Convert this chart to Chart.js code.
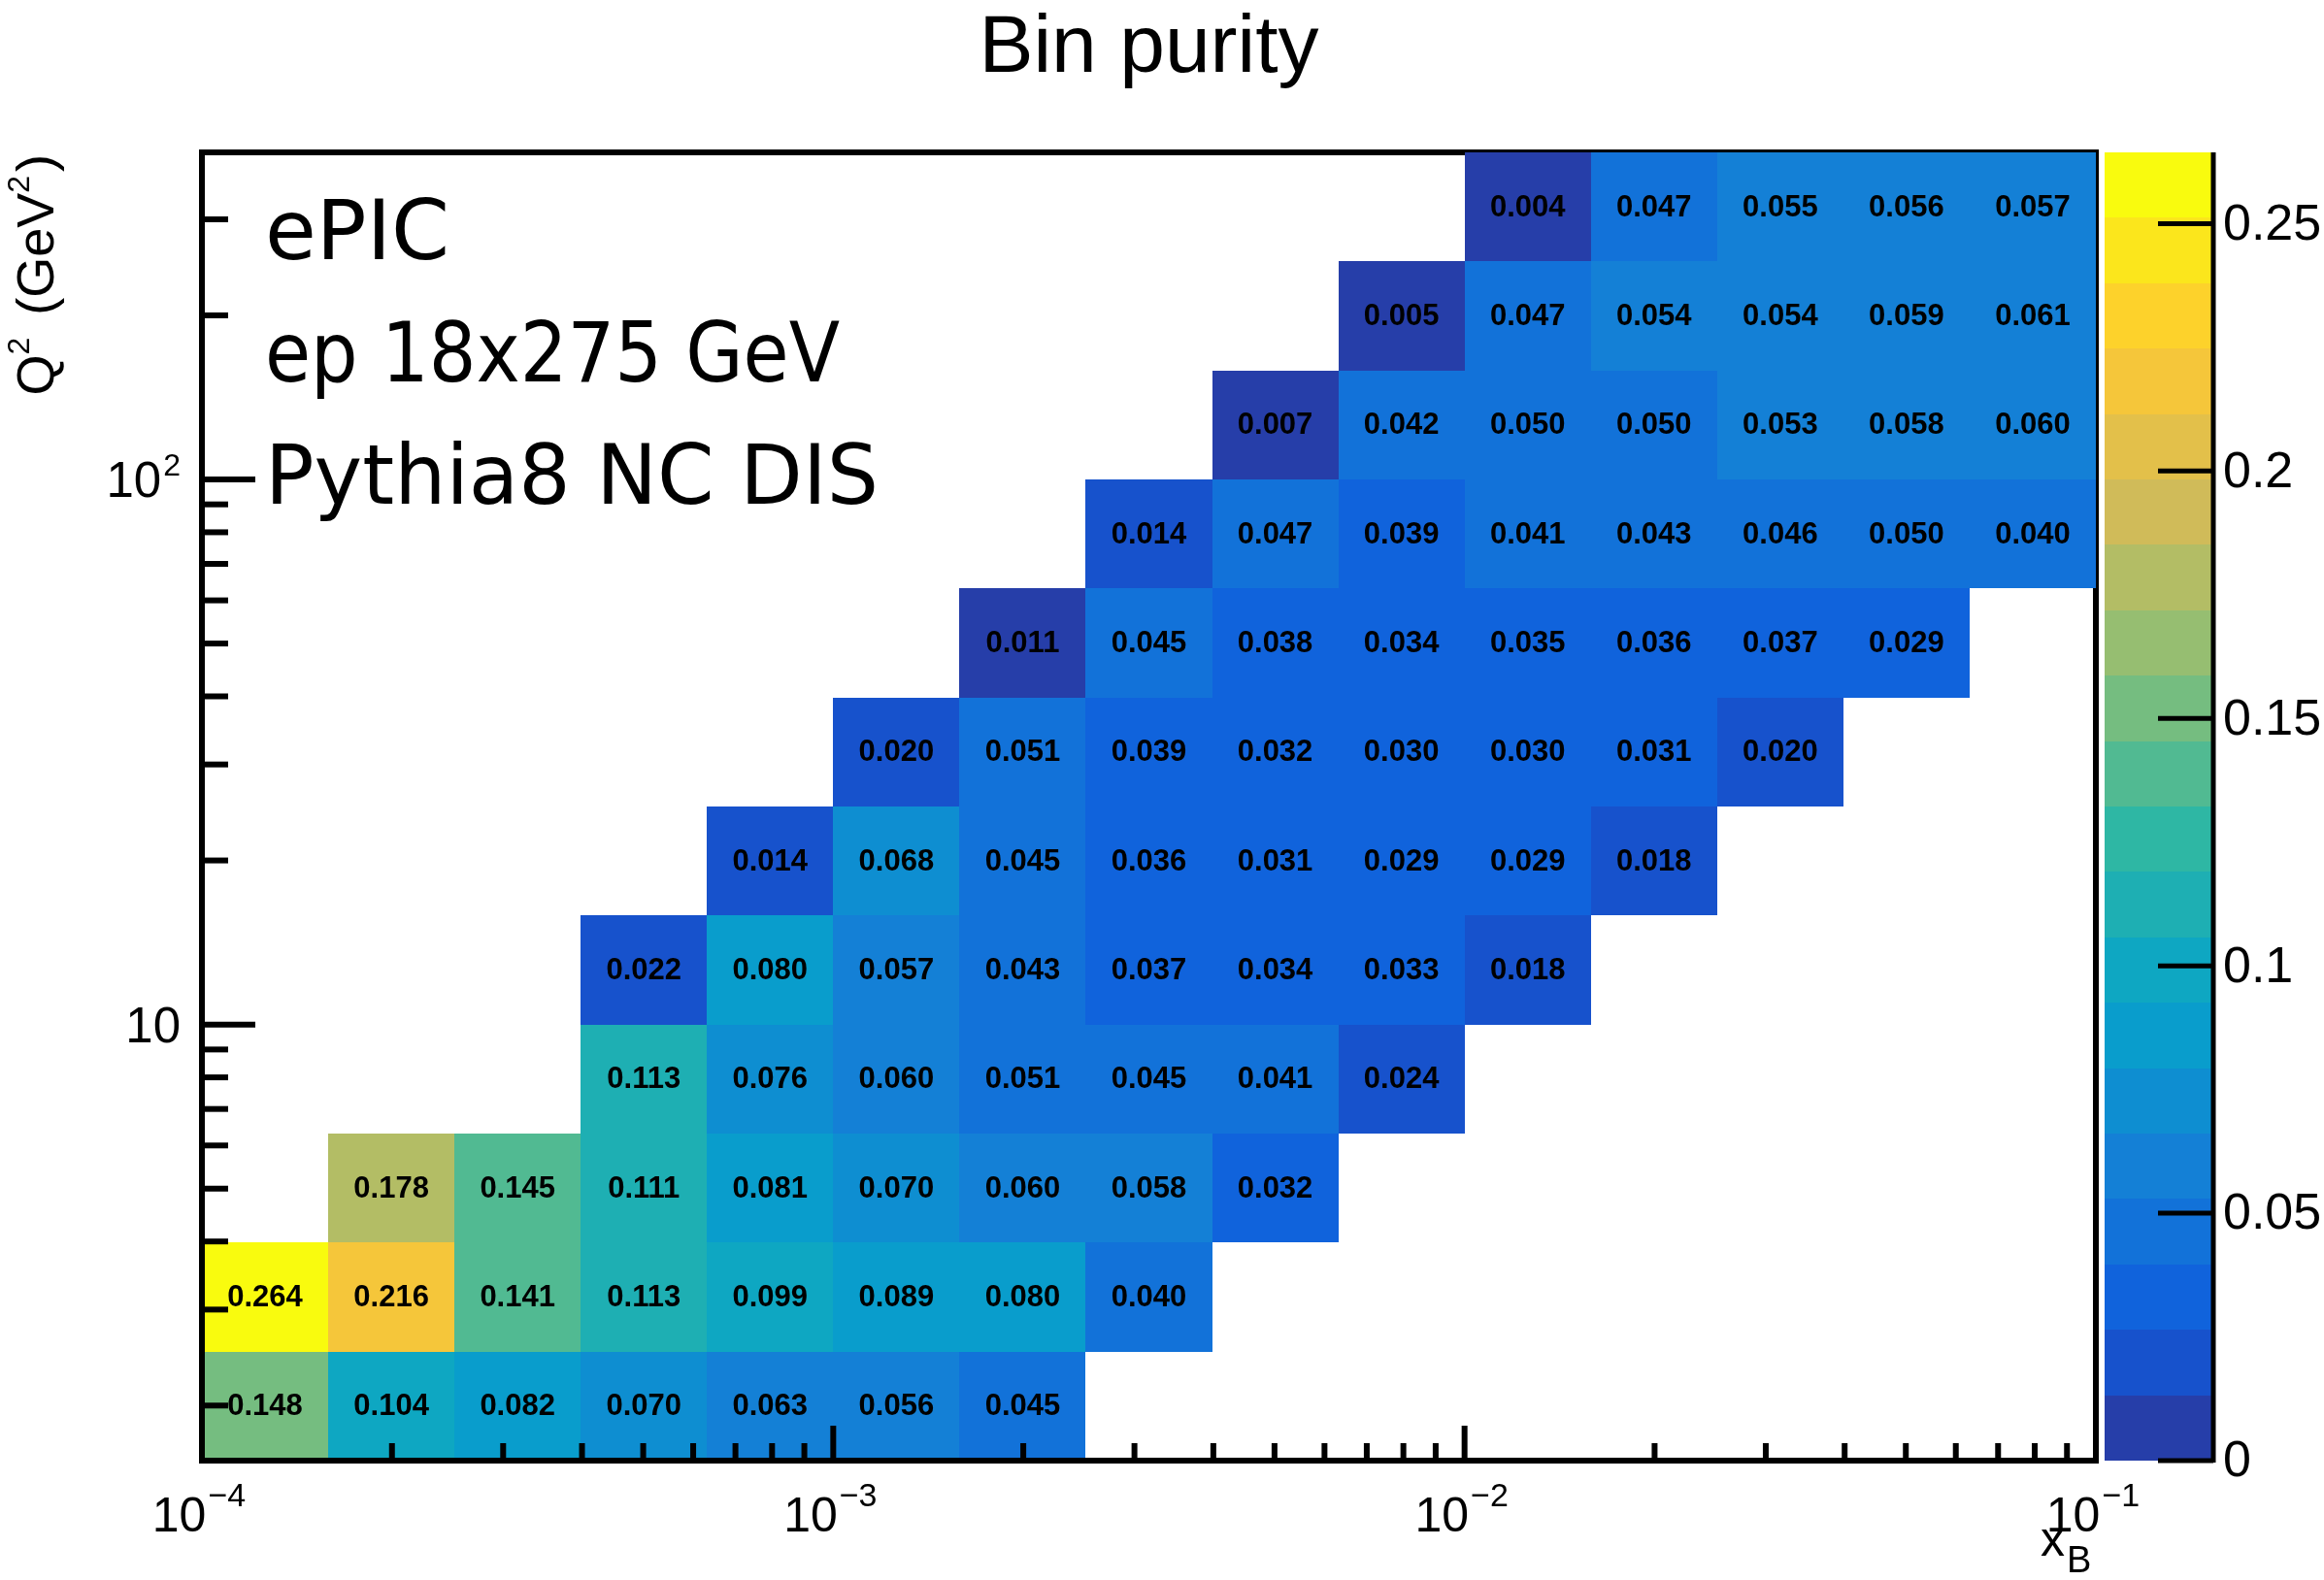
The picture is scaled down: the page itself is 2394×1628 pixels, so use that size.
<!DOCTYPE html>
<html><head><meta charset="utf-8">
<script src="https://cdn.jsdelivr.net/npm/chart.js@4.4.1/dist/chart.umd.min.js"></script>
<style>html,body{margin:0;padding:0;background:#fff;overflow:hidden}canvas{display:block}</style>
</head><body>
<canvas id="c" width="2394" height="1628"></canvas>
<script>
// ---- data ----
const xEdgeExponents = [-4.0,-3.8,-3.6,-3.4,-3.2,-3.0,-2.8,-2.6,-2.4,-2.2,-2.0,-1.8,-1.6,-1.4,-1.2,-1.0];
const q2EdgeExponents = [0.2,0.4,0.6,0.8,1.0,1.2,1.4,1.6,1.8,2.0,2.2,2.4,2.6];
// first x bin of each Q2 row (bottom to top)
const rowFirstBin = [0,0,1,3,3,4,5,6,7,8,9,10];
const purityRow01 = [0.148,0.104,0.082,0.070,0.063,0.056,0.045];
const purityRow02 = [0.264,0.216,0.141,0.113,0.099,0.089,0.080,0.040];
const purityRow03 = [0.178,0.145,0.111,0.081,0.070,0.060,0.058,0.032];
const purityRow04 = [0.113,0.076,0.060,0.051,0.045,0.041,0.024];
const purityRow05 = [0.022,0.080,0.057,0.043,0.037,0.034,0.033,0.018];
const purityRow06 = [0.014,0.068,0.045,0.036,0.031,0.029,0.029,0.018];
const purityRow07 = [0.020,0.051,0.039,0.032,0.030,0.030,0.031,0.020];
const purityRow08 = [0.011,0.045,0.038,0.034,0.035,0.036,0.037,0.029];
const purityRow09 = [0.014,0.047,0.039,0.041,0.043,0.046,0.050,0.040];
const purityRow10 = [0.007,0.042,0.050,0.050,0.053,0.058,0.060];
const purityRow11 = [0.005,0.047,0.054,0.054,0.059,0.061];
const purityRow12 = [0.004,0.047,0.055,0.056,0.057];
const purityRows = [purityRow01,purityRow02,purityRow03,purityRow04,purityRow05,purityRow06,
                    purityRow07,purityRow08,purityRow09,purityRow10,purityRow11,purityRow12];
const xDecadeExponents = [-4,-3,-2,-1];
const yMajorTicks = [10,100];
const yMajorTickLabels = [['10',''],['10','2']];
const yMinorTicks = [2,3,4,5,6,7,8,9,20,30,40,50,60,70,80,90,200,300];
const zTicks = [0,0.05,0.1,0.15,0.2,0.25];
const zTickLabels = ['0','0.05','0.1','0.15','0.2','0.25'];
const zMax = 0.2644;
const nContours = 20;
const titleText = 'Bin purity';
const infoLines = ['ePIC','ep 18x275 GeV','Pythia8 NC DIS'];

// ---- build cells ----
const cells = [];
purityRows.forEach((vals, r) => vals.forEach((v, k) => {
  const c = rowFirstBin[r] + k;
  cells.push({
    x: Math.pow(10, (xEdgeExponents[c] + xEdgeExponents[c+1]) / 2),
    y: Math.pow(10, (q2EdgeExponents[r] + q2EdgeExponents[r+1]) / 2),
    v: v, col: c, row: r
  });
}));

// ---- ROOT kBird palette ----
function birdColor(f) {
  const s=[0,0.125,0.25,0.375,0.5,0.625,0.75,0.875,1];
  const R=[0.2082,0.0592,0.0780,0.0232,0.1802,0.5301,0.8186,0.9956,0.9764];
  const G=[0.1664,0.3599,0.5041,0.6419,0.7178,0.7492,0.7328,0.7862,0.9832];
  const B=[0.5293,0.8684,0.8385,0.7914,0.6425,0.4662,0.3499,0.1968,0.0539];
  f = Math.min(1, Math.max(0, f));
  let j = 0; while (j < s.length-2 && f > s[j+1]) j++;
  const t = (f - s[j]) / (s[j+1] - s[j]);
  const c = A => Math.round(255 * (A[j] + (A[j+1] - A[j]) * t));
  return 'rgb(' + c(R) + ',' + c(G) + ',' + c(B) + ')';
}
const levelColor = i => birdColor((i + 0.99) / nContours);
const valueLevel = v => Math.min(nContours - 1, Math.floor(v / (zMax / nContours)));

const SANS = '"Liberation Sans", Arial, Helvetica, sans-serif';

function line(ctx, x0, y0, x1, y1) { ctx.beginPath(); ctx.moveTo(x0, y0); ctx.lineTo(x1, y1); ctx.stroke(); }

// draw base + superscript; align: 'center' | 'right' | 'left'
function drawPow(ctx, base, exp, x, y, size, expSize, raise, align) {
  ctx.font = size + 'px ' + SANS;
  const wb = ctx.measureText(base).width;
  ctx.font = expSize + 'px ' + SANS;
  const we = exp ? ctx.measureText(exp).width + 2 : 0;
  const w = wb + we;
  let x0 = x;
  if (align === 'center') x0 = x - w / 2; else if (align === 'right') x0 = x - w;
  ctx.textAlign = 'left';
  ctx.font = size + 'px ' + SANS;
  ctx.fillText(base, x0, y);
  if (exp) { ctx.font = expSize + 'px ' + SANS; ctx.fillText(exp, x0 + wb + 2, y - raise); }
}

const rootPlugin = {
  id: 'rootStyle',
  beforeDraw(chart) {
    const ctx = chart.ctx, a = chart.chartArea;
    ctx.save();
    ctx.fillStyle = '#fff'; ctx.fillRect(0, 0, chart.width, chart.height);
    ctx.strokeStyle = '#000'; ctx.lineWidth = 6;
    ctx.strokeRect(a.left, a.top, a.right - a.left, a.bottom - a.top);
    ctx.restore();
  },
  beforeDatasetsDraw(chart) {
    const ctx = chart.ctx, xs = chart.scales.x, ys = chart.scales.y;
    ctx.save();
    const pts = chart.data.datasets[0].data;
    pts.forEach(p => {
      const x0 = Math.round(xs.getPixelForValue(Math.pow(10, xEdgeExponents[p.col])));
      const x1 = Math.round(xs.getPixelForValue(Math.pow(10, xEdgeExponents[p.col+1])));
      const y0 = Math.round(ys.getPixelForValue(Math.pow(10, q2EdgeExponents[p.row])));
      const y1 = Math.round(ys.getPixelForValue(Math.pow(10, q2EdgeExponents[p.row+1])));
      ctx.fillStyle = levelColor(valueLevel(p.v));
      ctx.fillRect(x0, y1, x1 - x0, y0 - y1);
    });
    ctx.fillStyle = '#000';
    ctx.font = 'bold 31px ' + SANS;
    ctx.textAlign = 'center'; ctx.textBaseline = 'middle';
    pts.forEach(p => {
      ctx.fillText(p.v.toFixed(3), xs.getPixelForValue(p.x), ys.getPixelForValue(p.y) + 1);
    });
    ctx.restore();
  },
  afterDatasetsDraw(chart) {
    const ctx = chart.ctx, a = chart.chartArea, xs = chart.scales.x, ys = chart.scales.y, zs = chart.scales.z;
    ctx.save();
    ctx.strokeStyle = '#000'; ctx.fillStyle = '#000'; ctx.lineCap = 'butt';
    // axes
    ctx.lineWidth = 6;
    line(ctx, a.left, a.top - 3, a.left, a.bottom + 3);
    line(ctx, a.left - 3, a.bottom, a.right + 3, a.bottom);
    // x ticks
    xDecadeExponents.forEach(e => {
      for (let m = 1; m <= 9; m++) {
        const v = m * Math.pow(10, e);
        if (v > xs.max * 1.0001) break;
        const px = xs.getPixelForValue(v);
        line(ctx, px, a.bottom, px, a.bottom - (m === 1 ? 36 : 18));
      }
    });
    // y ticks
    yMajorTicks.forEach(v => { const py = ys.getPixelForValue(v); line(ctx, a.left, py, a.left + 55, py); });
    yMinorTicks.forEach(v => { const py = ys.getPixelForValue(v); line(ctx, a.left, py, a.left + 27, py); });
    // x tick labels
    ctx.textBaseline = 'alphabetic';
    xDecadeExponents.forEach(e => {
      const px = xs.getPixelForValue(Math.pow(10, e));
      drawPow(ctx, '10', '\u2212' + Math.abs(e), px - 3, 1578, 50, 34, 26, 'center');
    });
    // y tick labels
    yMajorTicks.forEach((v, i) => {
      const py = ys.getPixelForValue(v);
      drawPow(ctx, yMajorTickLabels[i][0], yMajorTickLabels[i][1], 186, py + 18, 51, 32, 22, 'right');
    });
    // axis titles
    ctx.font = '50px ' + SANS; ctx.textAlign = 'left';
    ctx.fillText('x', 2102, 1603);
    ctx.font = '38px ' + SANS;
    ctx.fillText('B', 2129, 1620);
    // y title rotated
    ctx.save();
    ctx.translate(55, 160);
    ctx.rotate(-Math.PI / 2);
    const segs = [['Q',54,0,0],['2',32,25,8],[' (GeV',54,0,0],['2',32,25,4],[')',54,0,0]];
    let W = 0;
    segs.forEach(s => { ctx.font = s[1] + 'px ' + SANS; W += ctx.measureText(s[0]).width + s[3]; });
    let cx = -W;
    segs.forEach(s => { ctx.font = s[1] + 'px ' + SANS; ctx.fillText(s[0], cx + 1, -s[2]); cx += ctx.measureText(s[0]).width + s[3]; });
    ctx.restore();

    // colour bar
    const cbL = 2168, cbR = 2280, dz = zMax / nContours;
    for (let i = 0; i < nContours; i++) {
      const y0 = Math.round(zs.getPixelForValue(i * dz));
      const y1 = Math.round(zs.getPixelForValue((i + 1) * dz));
      ctx.fillStyle = levelColor(i);
      ctx.fillRect(cbL, y1, cbR - cbL, y0 - y1);
    }
    ctx.fillStyle = '#000';
    ctx.lineWidth = 5;
    line(ctx, cbR, zs.getPixelForValue(zMax), cbR, zs.getPixelForValue(0) + 2);
    ctx.font = '52px ' + SANS; ctx.textAlign = 'left'; ctx.textBaseline = 'middle';
    zTicks.forEach((v, i) => {
      const py = zs.getPixelForValue(v);
      line(ctx, cbR - 57, py, cbR, py);
      ctx.fillText(zTickLabels[i], 2290, py + 2);
    });

    // title
    ctx.textBaseline = 'alphabetic'; ctx.textAlign = 'center';
    ctx.font = '84px ' + SANS;
    ctx.fillText(titleText, (a.left + a.right) / 2, 74);

    // info text
    const baselines = [267, 393, 519];
    const fitWidths = [190, 592, 632];
    ctx.textAlign = 'left';
    ctx.font = '86px "DejaVu Sans", sans-serif';
    infoLines.forEach((t, i) => { ctx.fillText(t, 273, baselines[i], fitWidths[i]); });
    ctx.restore();
  }
};

const chart = new Chart(document.getElementById('c'), {
  type: 'scatter',
  data: { datasets: [{ label: 'Bin purity', data: cells, pointRadius: 0, pointHoverRadius: 0 }] },
  options: {
    responsive: false, animation: false, devicePixelRatio: 1,
    layout: { padding: { left: 208, right: 235, top: 157, bottom: 123 } },
    plugins: { legend: { display: false }, title: { display: false }, tooltip: { enabled: false } },
    scales: {
      x: { type: 'logarithmic', min: Math.pow(10, xEdgeExponents[0]), max: Math.pow(10, xEdgeExponents[xEdgeExponents.length-1]), bounds: 'data', display: false },
      y: { type: 'logarithmic', min: Math.pow(10, q2EdgeExponents[0]), max: Math.pow(10, q2EdgeExponents[q2EdgeExponents.length-1]), bounds: 'data', display: false },
      z: { type: 'linear', axis: 'y', min: 0, max: zMax, display: false }
    }
  },
  plugins: [rootPlugin]
});
</script>
</body></html>
